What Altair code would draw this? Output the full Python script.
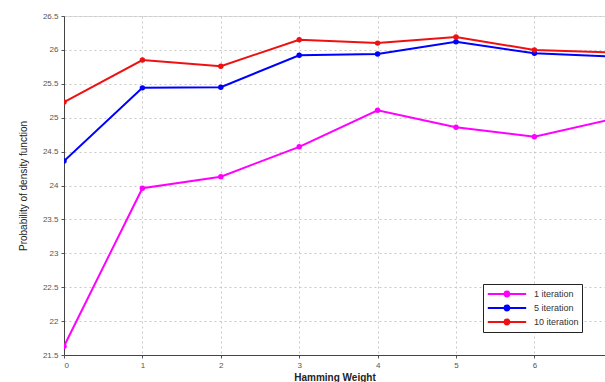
import altair as alt
import pandas as pd

x_vals = [0, 1, 2, 3, 4, 5, 6, 7]
it1 = [21.63, 23.96, 24.13, 24.57, 25.11, 24.86, 24.72, 24.98]
it5 = [24.36, 25.44, 25.45, 25.92, 25.94, 26.12, 25.95, 25.90]
it10 = [25.23, 25.85, 25.76, 26.15, 26.10, 26.19, 26.00, 25.96]
series = ["1 iteration", "5 iteration", "10 iteration"]
colors = ["#ff00ff", "#0000ff", "#ee1111"]

rows = []
for name, vals in zip(series, [it1, it5, it10]):
    for x, v in zip(x_vals, vals):
        rows.append({"x": x, "y": v, "s": name})
df = pd.DataFrame(rows)

W = 541
H = 339
unit = 78.4

sym = "M-3.2,0L3.2,0M-0.4,0a0.4,0.4 0 1,0 0.8,0a0.4,0.4 0 1,0 -0.8,0"

chart = alt.Chart(df).mark_line(
    point=alt.OverlayMarkDef(filled=True, size=30), strokeWidth=2, clip=True
).encode(
    x=alt.X("x:Q", scale=alt.Scale(domain=[0, W / unit], nice=False, zero=False),
            axis=alt.Axis(title="Hamming Weight", values=x_vals, format="d",
                          grid=True, gridDash=[2, 3], gridColor="#c8c8c8",
                          tickColor="#555555", tickSize=3, domainColor="#444444",
                          labelFontSize=8, labelColor="#555555", labelPadding=3,
                          titleFontSize=10, titleFontWeight="bold", titlePadding=3,
                          titleColor="#222222")),
    y=alt.Y("y:Q", scale=alt.Scale(domain=[21.5, 26.5], nice=False, zero=False),
            axis=alt.Axis(title="Probability of density function", format="~g",
                          values=[21.5, 22, 22.5, 23, 23.5, 24, 24.5, 25, 25.5, 26, 26.5],
                          grid=True, gridDash=[2, 3], gridColor="#c8c8c8",
                          tickColor="#555555", tickSize=3, domainColor="#444444",
                          labelFontSize=8, labelColor="#555555", labelPadding=3,
                          titleFontSize=10, titleFontWeight="normal", titlePadding=14,
                          titleColor="#222222")),
    color=alt.Color("s:N", sort=series,
                    scale=alt.Scale(domain=series, range=colors),
                    legend=alt.Legend(title=None, orient="none", legendX=419, legendY=268,
                                      symbolType=sym, symbolSize=144, symbolStrokeWidth=2,
                                      symbolOffset=14, labelOffset=20,
                                      labelFontSize=9, labelColor="#333333",
                                      strokeColor="#222222", fillColor="white",
                                      padding=3, rowPadding=0)),
).properties(
    width=W, height=H,
    autosize=alt.AutoSizeParams(type="none"),
    padding={"left": 64, "top": 16, "right": 0, "bottom": 27},
).configure_view(
    stroke="#444444", strokeWidth=1
).configure(font="Liberation Sans", background="white")

chart.save("out.html", embed_options={"renderer": "svg", "actions": False})
